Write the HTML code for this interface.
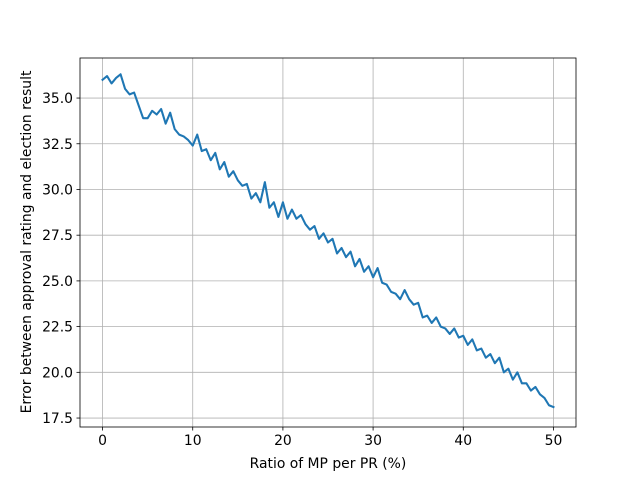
<!DOCTYPE html>
<html><head><meta charset="utf-8"><style>
body{margin:0;background:#fff;}
svg{display:block;font-family:"DejaVu Sans","Liberation Sans",sans-serif;}
</style></head><body>
<svg id="chart" width="640" height="480" xmlns="http://www.w3.org/2000/svg">
<rect width="640" height="480" fill="#fff"/>
<g id="grid"></g>
<g id="xticks"></g>
<g id="yticks"></g>
<path id="line" fill="none" stroke="#1f77b4" stroke-width="2.08" stroke-linejoin="round" stroke-linecap="square"/>
<rect x="80" y="58" width="496" height="369" fill="none" stroke="#000" stroke-width="0.8"/>
<text x="328" y="468" font-size="13.9" text-anchor="middle">Ratio of MP per PR (%)</text>
<text transform="translate(31,242) rotate(-90)" font-size="13.9" text-anchor="middle">Error between approval rating and election result</text>
</svg>
<script>
const xValues = [0,0.5,1,1.5,2,2.5,3,3.5,4,4.5,5,5.5,6,6.5,7,7.5,8,8.5,9,9.5,10,10.5,11,11.5,12,12.5,13,13.5,14,14.5,15,15.5,16,16.5,17,17.5,18,18.5,19,19.5,20,20.5,21,21.5,22,22.5,23,23.5,24,24.5,25,25.5,26,26.5,27,27.5,28,28.5,29,29.5,30,30.5,31,31.5,32,32.5,33,33.5,34,34.5,35,35.5,36,36.5,37,37.5,38,38.5,39,39.5,40,40.5,41,41.5,42,42.5,43,43.5,44,44.5,45,45.5,46,46.5,47,47.5,48,48.5,49,49.5,50];
const errValues = [36.0,36.2,35.8,36.1,36.3,35.5,35.2,35.3,34.6,33.9,33.9,34.3,34.1,34.4,33.6,34.2,33.3,33.0,32.9,32.7,32.4,33.0,32.1,32.2,31.6,32.0,31.1,31.5,30.7,31.0,30.5,30.2,30.3,29.5,29.8,29.3,30.4,29.0,29.3,28.5,29.3,28.4,28.9,28.4,28.6,28.1,27.8,28.0,27.3,27.6,27.1,27.3,26.5,26.8,26.3,26.6,25.8,26.2,25.5,25.8,25.2,25.7,24.9,24.8,24.4,24.3,24.0,24.5,24.0,23.7,23.8,23.0,23.1,22.7,23.0,22.5,22.4,22.1,22.4,21.9,22.0,21.5,21.8,21.2,21.3,20.8,21.0,20.5,20.8,20.0,20.2,19.6,20.0,19.4,19.4,19.0,19.2,18.8,18.6,18.2,18.1];
const xTicks = [0,10,20,30,40,50];
const yTicks = [17.5,20.0,22.5,25.0,27.5,30.0,32.5,35.0];
const NS="http://www.w3.org/2000/svg";
const L=80,R=576,T=58,B=427;
const xMin=-2.5,xMax=52.5,yMin=17.01,yMax=37.19;
const sx=v=>L+(v-xMin)/(xMax-xMin)*(R-L);
const sy=v=>B-(v-yMin)/(yMax-yMin)*(B-T);
const grid=document.getElementById('grid'),gx=document.getElementById('xticks'),gy=document.getElementById('yticks');
function mk(tag,attrs,parent){const e=document.createElementNS(NS,tag);for(const k in attrs)e.setAttribute(k,attrs[k]);parent.appendChild(e);return e;}
xTicks.forEach(t=>{const x=sx(t);
 const g=mk('line',{x1:x,x2:x,y1:T,y2:B,stroke:'#b0b0b0','stroke-width':0.8},grid);
 
 
 const tk=mk('line',{x1:x,x2:x,y1:B,y2:B+3.5,stroke:'#000','stroke-width':0.8},gx);
 
 
 const tx=mk('text',{x:x,y:B+18,'font-size':13.9,'text-anchor':'middle'},gx);tx.textContent=t;
 
 
});
yTicks.forEach(t=>{const y=sy(t);
 const g=mk('line',{x1:L,x2:R,y1:y,y2:y,stroke:'#b0b0b0','stroke-width':0.8},grid);
 
 
 const tk=mk('line',{x1:L-3.5,x2:L,y1:y,y2:y,stroke:'#000','stroke-width':0.8},gy);
 
 
 const tx=mk('text',{x:L-7,y:y+5,'font-size':13.9,'text-anchor':'end'},gy);tx.textContent=t.toFixed(1);
 
 
});
document.getElementById('line').setAttribute('d',xValues.map((x,i)=>(i?'L':'M')+sx(x).toFixed(2)+','+sy(errValues[i]).toFixed(2)).join(''));
</script>
</body></html>
